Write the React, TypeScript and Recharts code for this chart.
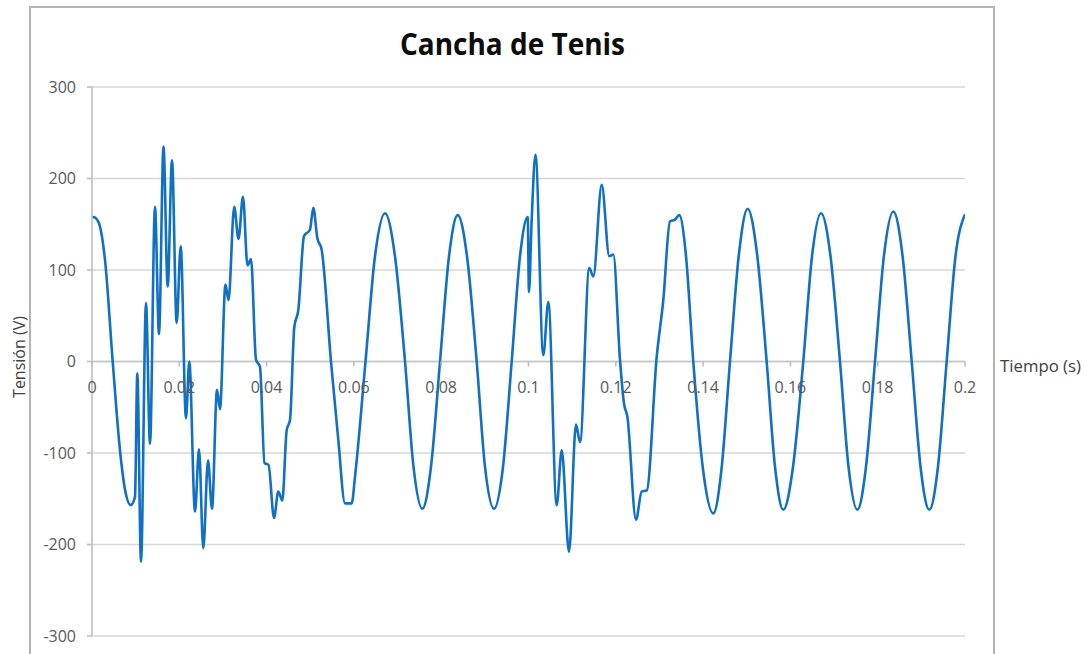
import React from 'react';
import { LineChart, Line, XAxis, YAxis, CartesianGrid, ReferenceLine, ReferenceDot } from 'recharts';

const chartTitle = 'Cancha de Tenis';
const xTitle = 'Tiempo (s)';
const yTitle = 'Tensión (V)';

const timeS = [
  0, 0.0003, 0.00144, 0.00298, 0.00474, 0.00641, 0.00756, 0.00887, 0.00985, 0.01038,
  0.01123, 0.01237, 0.01329, 0.01443, 0.01535, 0.01638, 0.01734, 0.01833, 0.0194, 0.02032,
  0.02153, 0.02229, 0.0236, 0.02451, 0.0255, 0.02658, 0.02749, 0.02864, 0.02932, 0.03058,
  0.03127, 0.03258, 0.03356, 0.03459, 0.03562, 0.03643, 0.03757, 0.03849, 0.03952, 0.04044,
  0.0417, 0.04268, 0.0436, 0.0446, 0.04536, 0.04635, 0.04726, 0.04857, 0.04994, 0.0507,
  0.05162, 0.05262, 0.05475, 0.05643, 0.05796, 0.0595, 0.06025, 0.06266, 0.06483, 0.06712,
  0.06941, 0.07171, 0.07365, 0.07567, 0.07766, 0.07973, 0.08179, 0.08378, 0.08591, 0.08813,
  0.09003, 0.0921, 0.09416, 0.09615, 0.09805, 0.09982, 0.10011, 0.10069, 0.1016, 0.10339,
  0.10454, 0.10646, 0.10761, 0.10928, 0.11088, 0.1118, 0.11393, 0.11485, 0.11677, 0.11851,
  0.11943, 0.12096, 0.12188, 0.12264, 0.12463, 0.12593, 0.12708, 0.12937, 0.13088, 0.1324,
  0.13356, 0.13454, 0.13609, 0.13775, 0.13998, 0.14233, 0.14421, 0.14616, 0.14822, 0.15021,
  0.15235, 0.15456, 0.15647, 0.15837, 0.1606, 0.16295, 0.16495, 0.16701, 0.16919, 0.17136,
  0.17331, 0.17533, 0.17732, 0.17938, 0.18144, 0.18357, 0.18568, 0.18779, 0.18981, 0.19182,
  0.19381, 0.1958, 0.19782, 0.2,
];

const voltageV = [
  157, 158, 153, 111, 0, -97, -140, -157, -148, -13,
  -219, 64, -90, 169, 30, 235, 82, 220, 42, 126,
  -62, 0, -164, -96, -204, -108, -161, -31, -52, 84,
  67, 169, 134, 180, 105, 112, 2, -6, -111, -113,
  -171, -142, -152, -75, -64, 38, 56, 137, 144, 168,
  135, 122, 0, -86, -155, -155, -126, 0, 115, 162,
  115, 0, -115, -161, -115, 0, 115, 160, 115, 0,
  -115, -161, -115, 0, 115, 158, 76, 150, 226, 7,
  65, -157, -97, -208, -69, -88, 102, 93, 193, 115,
  117, 2, -46, -60, -173, -142, -141, 5, 67, 153,
  155, 160, 115, 0, -118, -166, -118, 0, 118, 167,
  118, 0, -115, -162, -115, 0, 115, 162, 115, 0,
  -115, -162, -115, 0, 116, 164, 116, 0, -115, -162,
  -115, 0, 115, 161,
];

const xTicks = [0, 0.02, 0.04, 0.06, 0.08, 0.1, 0.12, 0.14, 0.16, 0.18, 0.2];
const xTickLabels = ['0', '0.02', '0.04', '0.06', '0.08', '0.1', '0.12', '0.14', '0.16', '0.18', '0.2'];
const yTicks = [-300, -200, -100, 0, 100, 200, 300];

const data = timeS.map((t, i) => ({ t, v: voltageV[i] }));

const FONT = "'Open Sans', 'Noto Sans', sans-serif";

export default function App() {
  return (
    <div style={{ position: 'absolute', left: 0, top: 0, width: 1089, height: 654, overflow: 'hidden', background: '#ffffff' }}>
      <div
        style={{
          position: 'absolute',
          left: 29,
          top: 6,
          width: 966,
          height: 720,
          border: '2px solid #b3b3b3',
          boxSizing: 'border-box',
        }}
      />
      <div style={{ position: 'absolute', left: 0, top: 0 }}>
        <LineChart width={1089} height={654} data={data} margin={{ top: 87, right: 124, bottom: 18, left: 32 }}>
          <CartesianGrid horizontal vertical={false} stroke="#d6d6d6" strokeWidth={1.6} />
          <XAxis dataKey="t" type="number" domain={[0, 0.2]} ticks={xTicks} hide allowDataOverflow />
          <YAxis
            type="number"
            domain={[-300, 300]}
            ticks={yTicks}
            width={60}
            interval={0}
            axisLine={{ stroke: '#bfbfbf', strokeWidth: 1.6 }}
            tickLine={{ stroke: '#bfbfbf', strokeWidth: 1.6 }}
            tickSize={5}
            tickMargin={11}
            tick={{ fill: '#595959', fontSize: 16, fontFamily: FONT }}
          />
          <ReferenceLine y={0} stroke="#c4c4c4" strokeWidth={1.6} />
          {xTicks.map((tk, i) => (
            <ReferenceDot
              key={tk}
              x={tk}
              y={0}
              r={0}
              ifOverflow="visible"
              shape={(p: any) => (
                <g>
                  <line x1={p.cx} y1={p.cy} x2={p.cx} y2={p.cy + 5} stroke="#bfbfbf" strokeWidth={1.6} />
                  <text
                    x={p.cx}
                    y={p.cy + 31}
                    textAnchor="middle"
                    fill="#595959"
                    fontSize={16}
                    fontFamily={FONT}
                  >
                    {xTickLabels[i]}
                  </text>
                </g>
              )}
            />
          ))}
          <Line
            type="monotone"
            dataKey="v"
            stroke="#1070c4"
            strokeWidth={2.6}
            dot={false}
            isAnimationActive={false}
          />
        </LineChart>
      </div>
      <svg width={1089} height={654} style={{ position: 'absolute', left: 0, top: 0, pointerEvents: 'none' }}>
        <text
          x={400}
          y={55}
          fontSize={30}
          fontWeight="bold"
          fontFamily={FONT}
          fill="#0d0d0d"
          textLength={225}
          lengthAdjust="spacingAndGlyphs"
        >
          {chartTitle}
        </text>
        <text
          x={1000}
          y={372}
          fontSize={16.5}
          fontFamily={FONT}
          fill="#404040"
          textLength={81}
          lengthAdjust="spacingAndGlyphs"
        >
          {xTitle}
        </text>
        <text
          x={0}
          y={0}
          fontSize={16}
          fontFamily={FONT}
          fill="#404040"
          textAnchor="middle"
          transform="translate(25, 357) rotate(-90)"
        >
          {yTitle}
        </text>
      </svg>
    </div>
  );
}
